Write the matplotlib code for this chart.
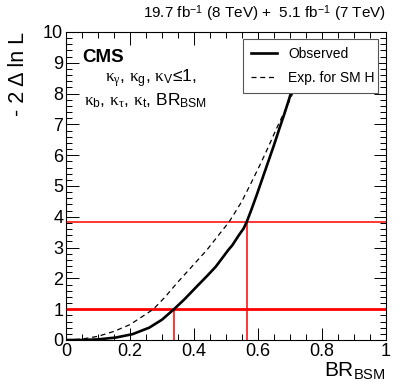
import matplotlib
matplotlib.use("Agg")
import matplotlib.pyplot as plt
from matplotlib.ticker import MultipleLocator

plt.rcParams['font.family'] = ['Liberation Sans', 'DejaVu Sans']
plt.rcParams['mathtext.fontset'] = 'custom'
plt.rcParams['mathtext.rm'] = 'Liberation Sans'
plt.rcParams['mathtext.it'] = 'Liberation Serif'

# Observed -2 Delta ln L vs BR_BSM
obs_x = [0.0, 0.05, 0.10, 0.156, 0.208, 0.26, 0.30, 0.3375, 0.37, 0.408, 0.44, 0.468,
         0.507, 0.52, 0.54, 0.555, 0.565, 0.58, 0.596, 0.614, 0.632, 0.65, 0.667,
         0.683, 0.698, 0.708]
obs_y = [0.0, 0.0, 0.02, 0.08, 0.19, 0.40, 0.66, 1.00, 1.32, 1.73, 2.07, 2.38,
         2.92, 3.08, 3.40, 3.62, 3.84, 4.25, 4.71, 5.25, 5.79, 6.33, 6.87,
         7.36, 7.85, 8.20]

# Expected for SM Higgs
exp_x = [0.0, 0.05, 0.10, 0.15, 0.20, 0.25, 0.273, 0.31, 0.346, 0.393, 0.44, 0.481,
         0.51, 0.549, 0.58, 0.611, 0.635, 0.658, 0.68, 0.702, 0.712]
exp_y = [0.0, 0.03, 0.12, 0.28, 0.50, 0.84, 1.00, 1.40, 1.84, 2.38, 2.92, 3.46,
         3.84, 4.49, 5.13, 5.79, 6.33, 6.87, 7.35, 7.85, 8.10]

# 68% and 95% CL crossings
cl_levels = [1.0, 3.84]
cl_obs_x = [0.337, 0.567]

fig = plt.figure(figsize=(4.07, 3.91), dpi=100)
ax = fig.add_axes([66 / 407, 51 / 391, 320 / 407, 308 / 391])

ax.plot(obs_x, obs_y, color='black', lw=1.9, label='Observed', zorder=3)
ax.plot(exp_x, exp_y, color='black', lw=0.9, ls=(0, (4, 3)), label='Exp. for SM H', zorder=3)

ax.axhline(cl_levels[0], color='red', lw=2.0, zorder=2)
ax.axhline(cl_levels[1], color='red', lw=1.1, zorder=2)
for xv, yv in zip(cl_obs_x, cl_levels):
    ax.plot([xv, xv], [0, yv], color='red', lw=1.1, zorder=2)

ax.set_xlim(0, 1)
ax.set_ylim(0, 10)
ax.xaxis.set_major_locator(MultipleLocator(0.2))
ax.xaxis.set_minor_locator(MultipleLocator(0.05))
ax.yaxis.set_major_locator(MultipleLocator(1))
ax.yaxis.set_minor_locator(MultipleLocator(0.2))
ax.xaxis.set_major_formatter(plt.FuncFormatter(lambda v, p: '%g' % round(v, 2)))
ax.tick_params(which='both', direction='in', top=True, right=True, labelsize=13, width=0.7)
ax.tick_params(which='major', length=9)
ax.tick_params(which='minor', length=4.5)
ax.tick_params(axis='x', pad=2)
ax.tick_params(axis='y', pad=2)
for s in ax.spines.values():
    s.set_linewidth(0.8)

ax.set_xlabel('BR$_{\\mathrm{BSM}}$', fontsize=15, loc='right', labelpad=0)
ax.set_ylabel('- 2 \u0394 ln L', fontsize=15.5, loc='top', labelpad=10)

leg = ax.legend(loc='upper left', bbox_to_anchor=(0.553, 0.79, 0.422, 0.187), mode='expand',
                fontsize=10, frameon=True, fancybox=False, framealpha=1,
                edgecolor='#555555', handlelength=1.9, borderpad=0.55, labelspacing=0.75,
                borderaxespad=0)
leg.get_frame().set_linewidth(0.8)
leg.set_zorder(5)

ax.text(0.05, 0.917, 'CMS', transform=ax.transAxes, fontsize=13.5, fontweight='bold', va='center')
ax.text(0.265, 0.85, '$\\kappa_{\\gamma}$, $\\kappa_{\\mathrm{g}}$, $\\kappa_{\\mathrm{V}}$\u22641,',
        transform=ax.transAxes, fontsize=12.5, ha='center', va='center')
ax.text(0.25, 0.775, '$\\kappa_{\\mathrm{b}}$, $\\kappa_{\\tau}$, $\\kappa_{\\mathrm{t}}$, BR$_{\\mathrm{BSM}}$',
        transform=ax.transAxes, fontsize=12.5, ha='center', va='center')

fig.text(386 / 407, 1 - 14 / 391, '19.7 fb$^{-1}$ (8 TeV) +  5.1 fb$^{-1}$ (7 TeV)',
         ha='right', va='center', fontsize=11)

fig.savefig('out.png', dpi=100)
